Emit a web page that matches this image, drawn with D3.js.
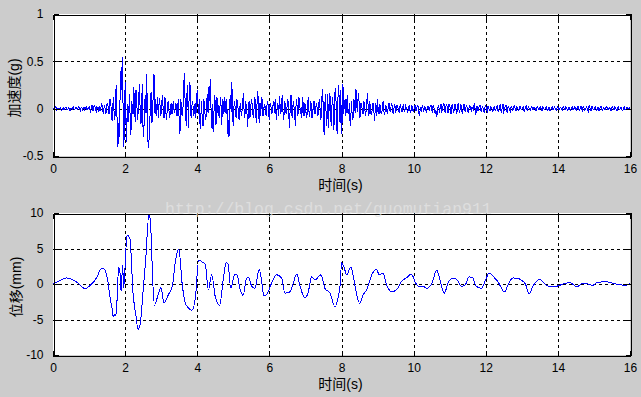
<!DOCTYPE html>
<html>
<head>
<meta charset="utf-8">
<script src="https://cdn.jsdelivr.net/npm/d3@7"></script>
<style>
  html, body { margin: 0; padding: 0; background: #cccccc; }
  svg { display: block; }
</style>
</head>
<body>
<svg id="chart" width="641" height="397"></svg>
<script>
// ---------------- DATA ----------------
// Acceleration record, sampled every 0.02 s from 0 to 16 s, in units of 0.01 g
const accelStep = 0.02;
const accelCentiG = [
  // 0 s
  1,0,-1,1,2,-1,0,1,-1,0, 1,-1,-2,0,1,-1,0,1,2,-1, -1,0,1,-2,-2,1,0,-1,2,0, -1,1,1,0,-1,2,2,-1,-2,1, 1,-1,0,2,-1,0,2,-1,-1,1,
  // 1 s
  2,-1,-3,1,4,-2,-2,3,3,-1, -4,2,1,-3,3,-2,-2,5,4,-3, -5,3,2,-6,-3,6,5,-4,-6,10, 8,-5,-13,4,12,-12,-8,18,25,-20, -41,-15,-30,12,40,20,55,10,-40,-25,
  // 2 s
  28,-10,-35,5,-14,-5,15,-10,-28,8, 2,-6,23,5,-14,20,12,-12,-5,15, 26,-8,-16,10,26,-30,-23,5,14,-5, 37,-20,-41,-35,-22,5,18,-15,-12,20, 37,-5,10,-8,3,12,-10,5,11,-8,
  // 3 s
  -5,8,14,-8,-10,12,10,-12,-5,6, 8,-4,-10,4,6,-6,2,8,-4,-2, 6,3,-8,4,10,-15,-27,10,4,-8, -3,15,38,12,-10,-18,25,8,-20,28, 25,-6,-10,8,5,-8,-4,6,-10,10,
  // 4 s
  20,5,-6,10,-21,-8,8,-15,-18,10, 4,-8,-12,6,15,-5,23,8,31,2, -20,5,-25,-8,14,6,-17,12,10,-8, 4,-10,12,3,-17,9,8,-6,12,4, -6,10,-27,-12,-30,8,14,-4,28,-8,
  // 5 s
  -18,4,8,-6,-10,10,5,-4,-12,2, 6,-8,-3,6,17,-4,-10,8,3,-6, -19,2,8,-10,-2,10,6,-5,-10,4, 12,-6,-15,8,19,-4,-15,6,-8,12, 10,-8,-4,5,3,-6,-8,8,6,-6,
  // 6 s
  -12,6,5,-6,-3,4,8,-5,10,-4, -12,6,4,-8,13,2,-6,8,14,-5, -12,8,5,-4,-6,10,8,-8,-20,5, 14,-6,-10,8,3,-5,-18,4,10,-8, -5,12,8,-6,2,-10,12,4,-8,6,
  // 7 s
  4,-6,-10,6,12,-4,-9,8,5,-10, -6,4,8,-6,-3,6,2,-8,-5,10, 4,-12,-8,14,21,-15,-28,6,15,-18, -10,16,-20,5,16,-10,-18,8,12,-22, -14,18,22,-12,-27,10,25,5,-15,20,
  // 8 s
  -27,-10,26,-6,5,10,-8,4,14,-4, -6,6,-18,-8,8,-12,-10,10,6,-5, 21,6,-4,12,16,-10,-8,6,4,-4, -6,8,5,-8,-3,6,16,2,-8,8, 3,-6,-5,4,6,-4,-13,5,4,-8,
  // 9 s
  10,-3,-6,5,3,-6,-4,6,8,-4, -7,4,2,-3,-5,4,6,-2,-3,5, 4,-3,-6,2,5,-4,-2,4,3,-2, -4,3,4,-2,-3,2,5,-3,-2,3, 1,-2,-4,2,3,-2,-5,3,2,-2,
  // 10 s
  -3,2,4,-2,-2,3,3,-4,-8,-1, 2,-3,4,1,-3,2,1,-2,-4,2, 3,-1,-2,3,4,-2,-3,4,2,-3, -5,-2,-9,-4,3,2,-4,3,5,-3, -2,4,6,-2,-4,3,5,-3,-5,4,
  // 11 s
  4,-2,-6,3,5,-4,-3,4,4,-3, -5,3,6,-2,-4,5,3,-3,-5,2, 5,-2,-3,4,2,-3,-4,2,3,-1, -2,2,1,-2,6,1,-7,-2,3,-2, -2,3,4,-2,-3,2,2,-2,-4,2,
  // 12 s
  3,-1,-3,2,2,-2,-2,2,1,-1, -3,1,2,-2,-1,2,3,-2,-3,3, 4,-2,-4,3,5,-4,-3,3,4,-2, -4,3,2,-2,-3,2,2,-2,-1,2, 3,-1,-2,2,1,-1,-2,2,2,-1,
  // 13 s
  -1,1,2,-2,-3,2,3,-1,-2,2, 1,-1,-2,1,2,-1,-1,2,1,-2, -2,1,2,-1,-1,1,2,-1,-2,2, 1,-1,-1,1,2,-1,-2,1,1,-2, -1,1,2,-1,-1,2,1,-1,-2,1,
  // 14 s
  2,-1,-1,1,1,-1,-2,1,2,-1, -1,2,1,-1,-2,1,1,-2,-1,1, 2,-1,-1,2,1,-1,-2,2,2,-1, -2,1,3,-1,-2,2,2,-2,-1,1, 2,-2,-3,2,3,-1,-2,2,2,-1,
  // 15 s
  -1,1,2,-1,-2,1,1,-2,-1,2, 2,-1,-2,1,1,-1,-1,2,2,-1, -1,1,1,-2,-2,1,2,-1,-1,2, 1,-2,-2,1,2,-1,-1,1,1,-2, -2,1,2,-1,-1,1,1,-1,-1,1,
  // 16 s
  0
];

// Displacement record, time in s, displacement in mm
const dispTime = [
  0,0.2,0.38,0.5,0.65,0.89,1.07,1.2,1.35,1.44,1.53,1.59,1.63,1.67,1.71,1.75,1.78,1.82,1.86,1.89,1.93,1.96,2.0,
  2.05,2.13,2.22,2.3,2.36,2.42,2.49,2.57,2.66,2.7,2.74,2.81,2.9,2.99,3.08,3.2,3.31,3.4,3.49,3.58,3.67,3.76,3.86,3.95,
  4.04,4.13,4.22,4.31,4.4,4.5,4.62,4.73,4.8,4.85,4.93,5.04,5.1,5.19,5.27,5.37,5.42,5.51,5.6,5.72,5.78,5.85,5.97,
  6.06,6.2,6.34,6.43,6.57,6.66,6.76,6.85,6.99,7.08,7.17,7.27,7.43,7.54,7.68,7.82,7.91,7.97,
  8.0,8.08,8.14,8.26,8.33,8.4,8.5,8.6,8.69,8.84,8.96,9.05,9.15,9.25,9.39,9.53,9.67,9.81,9.93,9.97,
  10.05,10.13,10.27,10.36,10.5,10.64,10.73,10.85,10.96,11.1,11.2,11.33,11.42,11.54,11.63,11.74,11.89,11.98,
  12.1,12.2,12.34,12.52,12.63,12.75,12.88,13.0,13.1,13.2,13.32,13.49,13.58,13.69,13.83,13.98,
  14.15,14.34,14.52,14.7,14.83,14.96,15.11,15.35,15.53,15.72,15.86,16.0
];
const dispMM = [
  0,0.5,0.85,0.7,0.3,-0.65,0,0.8,2.2,2.0,0.1,-2.2,-3.2,-4.6,-4.3,-4.4,-1.8,2.4,1.5,-1.1,2.6,-0.5,2.5,
  6.9,6.5,-1.3,-4.5,-6.4,-5.6,-1.5,3.4,9.8,9.0,4.0,-3.0,-1.8,-0.5,-2.7,-1.5,-0.3,3.4,4.9,0.1,-2.7,-3.4,-3.7,-1.8,
  3.4,3.1,2.8,-0.8,1.3,-1.8,-3.0,1.0,3.0,2.9,-0.6,1.3,1.3,-0.8,-1.6,0.8,0.9,-0.3,-0.6,2.1,0.6,-1.7,-1.1,
  0.1,1.3,0.8,-1.3,-1.1,0.1,1.4,-0.3,-2.0,-1.1,1.0,0.6,1.3,-0.6,-1.3,-3.2,-1.8,0.3,
  3.0,2.2,1.3,2.35,1.0,-0.9,-2.7,-1.5,-0.9,1.3,2.1,1.3,1.5,-0.1,-1.1,-0.8,0.4,0.9,1.4,1.2,
  0.2,-0.3,-0.35,-0.6,0.0,1.95,0.6,-1.3,0.2,0.85,0.6,-0.3,-0.2,1.0,0.9,-0.35,-0.6,0.4,
  1.55,1.1,0.3,-1.1,0.0,0.85,0.8,0.5,0.0,-1.35,-0.2,0.65,0.3,-0.2,-0.4,-0.3,
  0.0,0.2,-0.4,0.1,0.0,-0.2,0.25,0.3,0.1,-0.1,-0.2,0.1
];

const xTicks = [0,2,4,6,8,10,12,14,16];
const accelTicks = [-0.5,0,0.5,1];
const accelTickLabels = ["-0.5","0","0.5","1"];
const dispTicks = [-10,-5,0,5,10];
const dispTickLabels = ["-10","-5","0","5","10"];

const xLabel = "时间(s)";
const accelLabel = "加速度(g)";
const dispLabel = "位移(mm)";
const watermark = "http://blog.csdn.net/guomutian911";

// ---------------- DRAW ----------------
const svg = d3.select("#chart");
const latinFont = "'Liberation Sans', Arial, Helvetica, 'Noto Sans CJK SC', sans-serif";

svg.append("rect").attr("width", 641).attr("height", 397).attr("fill", "#cccccc");

const accelData = accelCentiG.map((v, i) => ({ t: i * accelStep, v: v / 100 }));
const dispData = dispTime.map((t, i) => ({ t: t, v: dispMM[i] }));

function panel(opts) {
  const { left, right, top, bottom, yDomain, yTicks, yTickLabels, data, yLabel, yLabelX, curve } = opts;
  const x = d3.scaleLinear().domain([0, 16]).range([left, right]);
  const y = d3.scaleLinear().domain(yDomain).range([bottom, top]);
  const g = svg.append("g");

  g.append("rect")
    .attr("x", left).attr("y", top)
    .attr("width", right - left).attr("height", bottom - top)
    .attr("fill", "#ffffff");

  // grid lines
  const grid = g.append("g").attr("stroke", "#000").attr("stroke-width", 1)
    .attr("stroke-dasharray", "3,3").attr("shape-rendering", "crispEdges");
  xTicks.slice(1, -1).forEach(t => {
    grid.append("line").attr("x1", Math.round(x(t)) + 0.5).attr("x2", Math.round(x(t)) + 0.5)
      .attr("y1", top).attr("y2", bottom);
  });
  yTicks.forEach(t => {
    if (t === yDomain[0] || t === yDomain[1]) return;
    grid.append("line").attr("x1", left).attr("x2", right)
      .attr("y1", Math.round(y(t)) + 0.5).attr("y2", Math.round(y(t)) + 0.5);
  });

  // data line (aliased, like the original MATLAB render)
  const line = d3.line().x(d => x(d.t)).y(d => y(d.v)).curve(curve);
  g.append("path").datum(data)
    .attr("d", line)
    .attr("fill", "none")
    .attr("stroke", "#0000ff")
    .attr("stroke-width", 1)
    .attr("stroke-linejoin", "miter")
    .attr("shape-rendering", "crispEdges");

  // axes (inward ticks, MATLAB style) via d3 axes
  const tickLen = 5;
  const axB = g.append("g").attr("transform", `translate(0,${bottom + 0.5})`)
    .call(d3.axisBottom(x).tickValues(xTicks).tickSize(-tickLen).tickPadding(8).tickFormat(d3.format("d")));
  const axT = g.append("g").attr("transform", `translate(0,${top + 0.5})`)
    .call(d3.axisTop(x).tickValues(xTicks).tickSize(-tickLen).tickFormat(""));
  const axL = g.append("g").attr("transform", `translate(${left + 0.5},0)`)
    .call(d3.axisLeft(y).tickValues(yTicks).tickSize(-tickLen).tickPadding(10)
      .tickFormat((d, i) => yTickLabels[i]));
  const axR = g.append("g").attr("transform", `translate(${right + 0.5},0)`)
    .call(d3.axisRight(y).tickValues(yTicks).tickSize(-tickLen).tickFormat(""));

  [axB, axT, axL, axR].forEach(a => {
    a.select(".domain").attr("stroke", "#000").attr("shape-rendering", "crispEdges");
    a.selectAll(".tick line").attr("stroke", "#000").attr("shape-rendering", "crispEdges");
    a.selectAll("text").attr("fill", "#000").attr("font-size", 12).attr("font-family", latinFont);
  });
  axB.selectAll(".tick text").attr("dy", "0.71em");

  // labels
  svg.append("text")
    .attr("x", (left + right) / 2 - 1).attr("y", bottom + 34)
    .attr("text-anchor", "middle")
    .attr("font-size", 14).attr("font-family", latinFont).attr("fill", "#000")
    .text(xLabel);
  svg.append("text")
    .attr("transform", `translate(${yLabelX},${(top + bottom) / 2 + 3}) rotate(-90)`)
    .attr("text-anchor", "middle").attr("dominant-baseline", "central")
    .attr("font-size", 14).attr("font-family", latinFont).attr("fill", "#000")
    .text(yLabel);
}

panel({ left: 53, right: 630, top: 14, bottom: 156, yDomain: [-0.5, 1],
  yTicks: accelTicks, yTickLabels: accelTickLabels, data: accelData,
  yLabel: accelLabel, yLabelX: 14, curve: d3.curveLinear });

panel({ left: 53, right: 630, top: 213, bottom: 355, yDomain: [-10, 10],
  yTicks: dispTicks, yTickLabels: dispTickLabels, data: dispData,
  yLabel: dispLabel, yLabelX: 15.5, curve: d3.curveMonotoneX });

// watermark
svg.append("text")
  .attr("x", 165).attr("y", 214)
  .attr("font-size", 16.5)
  .attr("font-family", "'Liberation Mono', 'DejaVu Sans Mono', monospace")
  .attr("fill", "#e4e4e4").attr("fill-opacity", 0.75)
  .text(watermark);
</script>
</body>
</html>
